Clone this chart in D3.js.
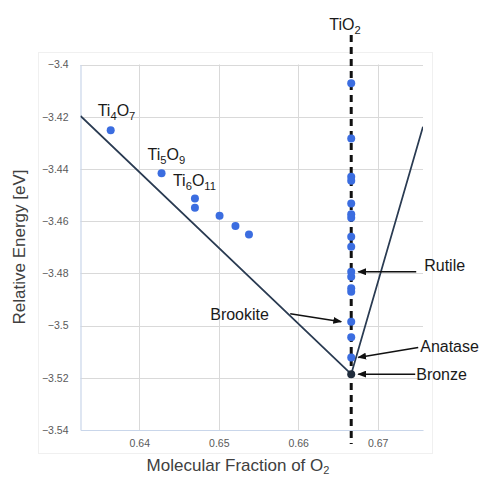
<!DOCTYPE html>
<html>
<head>
<meta charset="utf-8">
<script src="https://cdn.jsdelivr.net/npm/d3@7"></script>
<style>
  html, body { margin: 0; padding: 0; background: #fff; }
  svg { display: block; font-family: "Liberation Sans", Arial, sans-serif; }
</style>
</head>
<body>
<svg id="chart" width="483" height="477"></svg>
<script>
// Axis ticks
const xTicks = [0.64, 0.65, 0.66, 0.67];
const yTicks = [-3.54, -3.52, -3.5, -3.48, -3.46, -3.44, -3.42, -3.4];

// Magneli-phase suboxides (TinO2n-1)
const suboxideX = [0.6364, 0.6428, 0.6470, 0.6470, 0.6501, 0.6521, 0.6538];
const suboxideE = [-3.4252, -3.4417, -3.4513, -3.4549, -3.4579, -3.4619, -3.4651];

// TiO2 polymorphs, all at x = 2/3
const tio2X = 2 / 3;
const tio2E = [-3.4072, -3.4283, -3.4430, -3.4445, -3.4532, -3.4574, -3.4587,
               -3.4660, -3.4698, -3.4794, -3.4813, -3.4857, -3.4870, -3.4985,
               -3.5045, -3.5122];
const bronzeE = -3.5186;

// Convex hull through the bronze ground state
const hullX = [0.6326, 2 / 3, 0.6757];
const hullE = [-3.4197, -3.5186, -3.4238];

// Named phases pointed at by arrows
const phaseNames = ["Rutile", "Brookite", "Anatase", "Bronze"];
const phaseE = [-3.4794, -3.4985, -3.5122, -3.5186];

// Composition labels (normal / subscript parts)
const compLabels = [["Ti", "4", "O", "7"], ["Ti", "5", "O", "9"], ["Ti", "6", "O", "11"]];
const compIndex = [0, 1, 2];

const svg = d3.select("#chart");
const pLeft = 80.5, pRight = 423, pTop = 64.5, pBottom = 430;

const x = d3.scaleLinear().domain([0.6326, 0.6757]).range([pLeft, pRight]);
const y = d3.scaleLinear().domain([-3.54, -3.4]).range([pBottom, pTop]);

// faint chart frame
svg.append("rect")
  .attr("x", 38.5).attr("y", 52.5).attr("width", 394).attr("height", 401)
  .attr("fill", "none").attr("stroke", "#f0f0f0");

// grid
svg.append("g").selectAll("line").data(yTicks.filter(d => d > -3.54)).join("line")
  .attr("x1", pLeft).attr("x2", pRight)
  .attr("y1", d => Math.round(y(d)) + 0.5).attr("y2", d => Math.round(y(d)) + 0.5)
  .attr("stroke", "#d9d9d9").attr("stroke-width", 1);
svg.append("g").selectAll("line").data(xTicks).join("line")
  .attr("x1", d => Math.round(x(d)) + 0.5).attr("x2", d => Math.round(x(d)) + 0.5)
  .attr("y1", pTop).attr("y2", pBottom)
  .attr("stroke", "#d9d9d9").attr("stroke-width", 1);

// axes (light blue lines, no tick marks)
const yAxis = d3.axisLeft(y).tickValues(yTicks).tickSize(0).tickPadding(12)
  .tickFormat(d => String(+d.toFixed(2)).replace("-", "\u2212"));
const gy = svg.append("g").attr("transform", `translate(${pLeft},0)`).call(yAxis);
gy.select(".domain").attr("stroke", "#c9d6ea").attr("stroke-width", 1.2);
gy.selectAll("text").attr("font-size", 10.5).attr("fill", "#595959")
  .attr("font-family", "Liberation Sans, Arial, sans-serif");

const xAxis = d3.axisBottom(x).tickValues(xTicks).tickSize(0).tickPadding(10)
  .tickFormat(d3.format(".2f"));
const gx = svg.append("g").attr("transform", `translate(0,${pBottom})`).call(xAxis);
gx.select(".domain").attr("stroke", "#c9d6ea").attr("stroke-width", 1.2);
gx.selectAll("text").attr("font-size", 10.5).attr("fill", "#595959")
  .attr("font-family", "Liberation Sans, Arial, sans-serif");

// axis titles
svg.append("text")
  .attr("transform", `translate(25,247) rotate(-90)`)
  .attr("text-anchor", "middle").attr("font-size", 17).attr("fill", "#404040")
  .text("Relative Energy [eV]");
const xt = svg.append("text")
  .attr("x", 238).attr("y", 471).attr("text-anchor", "middle")
  .attr("font-size", 17).attr("fill", "#404040");
xt.append("tspan").text("Molecular Fraction of O");
xt.append("tspan").attr("font-size", 11).attr("dy", 3).text("2");

// hull line
const clip = svg.append("clipPath").attr("id", "plotclip");
clip.append("rect").attr("x", pLeft).attr("y", pTop - 10).attr("width", pRight - pLeft).attr("height", pBottom - pTop + 10);
const hullPts = hullX.map((v, i) => [v, hullE[i]]);
svg.append("path")
  .datum(hullPts)
  .attr("clip-path", "url(#plotclip)")
  .attr("d", d3.line().x(d => x(d[0])).y(d => y(d[1])))
  .attr("fill", "none").attr("stroke", "#2a3b52").attr("stroke-width", 1.8);

// dashed TiO2 composition line
svg.append("line")
  .attr("x1", x(tio2X)).attr("x2", x(tio2X)).attr("y1", 35).attr("y2", 444)
  .attr("stroke", "#111").attr("stroke-width", 3).attr("stroke-dasharray", "7,5");

// points
svg.append("g").selectAll("circle").data(suboxideX.map((v, i) => [v, suboxideE[i]])).join("circle")
  .attr("cx", d => x(d[0])).attr("cy", d => y(d[1])).attr("r", 4)
  .attr("fill", "#3b6de0");
svg.append("g").selectAll("circle").data(tio2E).join("circle")
  .attr("cx", x(tio2X)).attr("cy", d => y(d)).attr("r", 4)
  .attr("fill", "#3b6de0");
svg.append("circle").attr("cx", x(tio2X)).attr("cy", y(bronzeE)).attr("r", 4)
  .attr("fill", "#1f2c3c");

// composition labels
function subLabel(sel, parts, px, py, size) {
  const t = sel.append("text").attr("x", px).attr("y", py).attr("font-size", size).attr("fill", "#1a1a1a");
  parts.forEach((p, i) => {
    if (i % 2 === 0) {
      t.append("tspan").attr("font-size", size).attr("dy", i === 0 ? 0 : -4).text(p);
    } else {
      t.append("tspan").attr("font-size", size * 0.7).attr("dy", 4).text(p);
    }
  });
  return t;
}
const compAnchor = [[-13, -14], [-14, -13], [-22, -12]];
compIndex.forEach(i => {
  const px = x(suboxideX[i]) + compAnchor[i][0];
  const py = y(suboxideE[i]) + compAnchor[i][1];
  subLabel(svg, compLabels[i], px, py, 16);
});
subLabel(svg, ["TiO", "2"], x(tio2X) - 22, 30, 16);

// arrows
const defs = svg.append("defs");
defs.append("marker").attr("id", "arrowhead")
  .attr("viewBox", "0 0 10 8").attr("refX", 9).attr("refY", 4)
  .attr("markerWidth", 9).attr("markerHeight", 7).attr("markerUnits", "userSpaceOnUse")
  .attr("orient", "auto")
  .append("path").attr("d", "M0,0 L10,4 L0,8 Z").attr("fill", "#111");

const cx0 = x(tio2X);
const arrowSpec = {
  Rutile:   { from: [cx0 + 65, 0], to: [cx0 + 7, 0], label: [cx0 + 73, -1] },
  Brookite: { from: [cx0 - 61, -8], to: [cx0 - 10, 0], label: [cx0 - 141, -2] },
  Anatase:  { from: [cx0 + 67, -10], to: [cx0 + 7, 0], label: [cx0 + 69, -5] },
  Bronze:   { from: [cx0 + 64, 0], to: [cx0 + 7, 0], label: [cx0 + 65, 6] }
};
phaseNames.forEach((name, i) => {
  const s = arrowSpec[name];
  const py = y(phaseE[i]);
  svg.append("line")
    .attr("x1", s.from[0]).attr("y1", py + s.from[1])
    .attr("x2", s.to[0]).attr("y2", py + s.to[1])
    .attr("stroke", "#111").attr("stroke-width", 1.5)
    .attr("marker-end", "url(#arrowhead)");
  svg.append("text")
    .attr("x", s.label[0]).attr("y", py + s.label[1])
    .attr("font-size", 16).attr("fill", "#1a1a1a")
    .text(name);
});
</script>
</body>
</html>
